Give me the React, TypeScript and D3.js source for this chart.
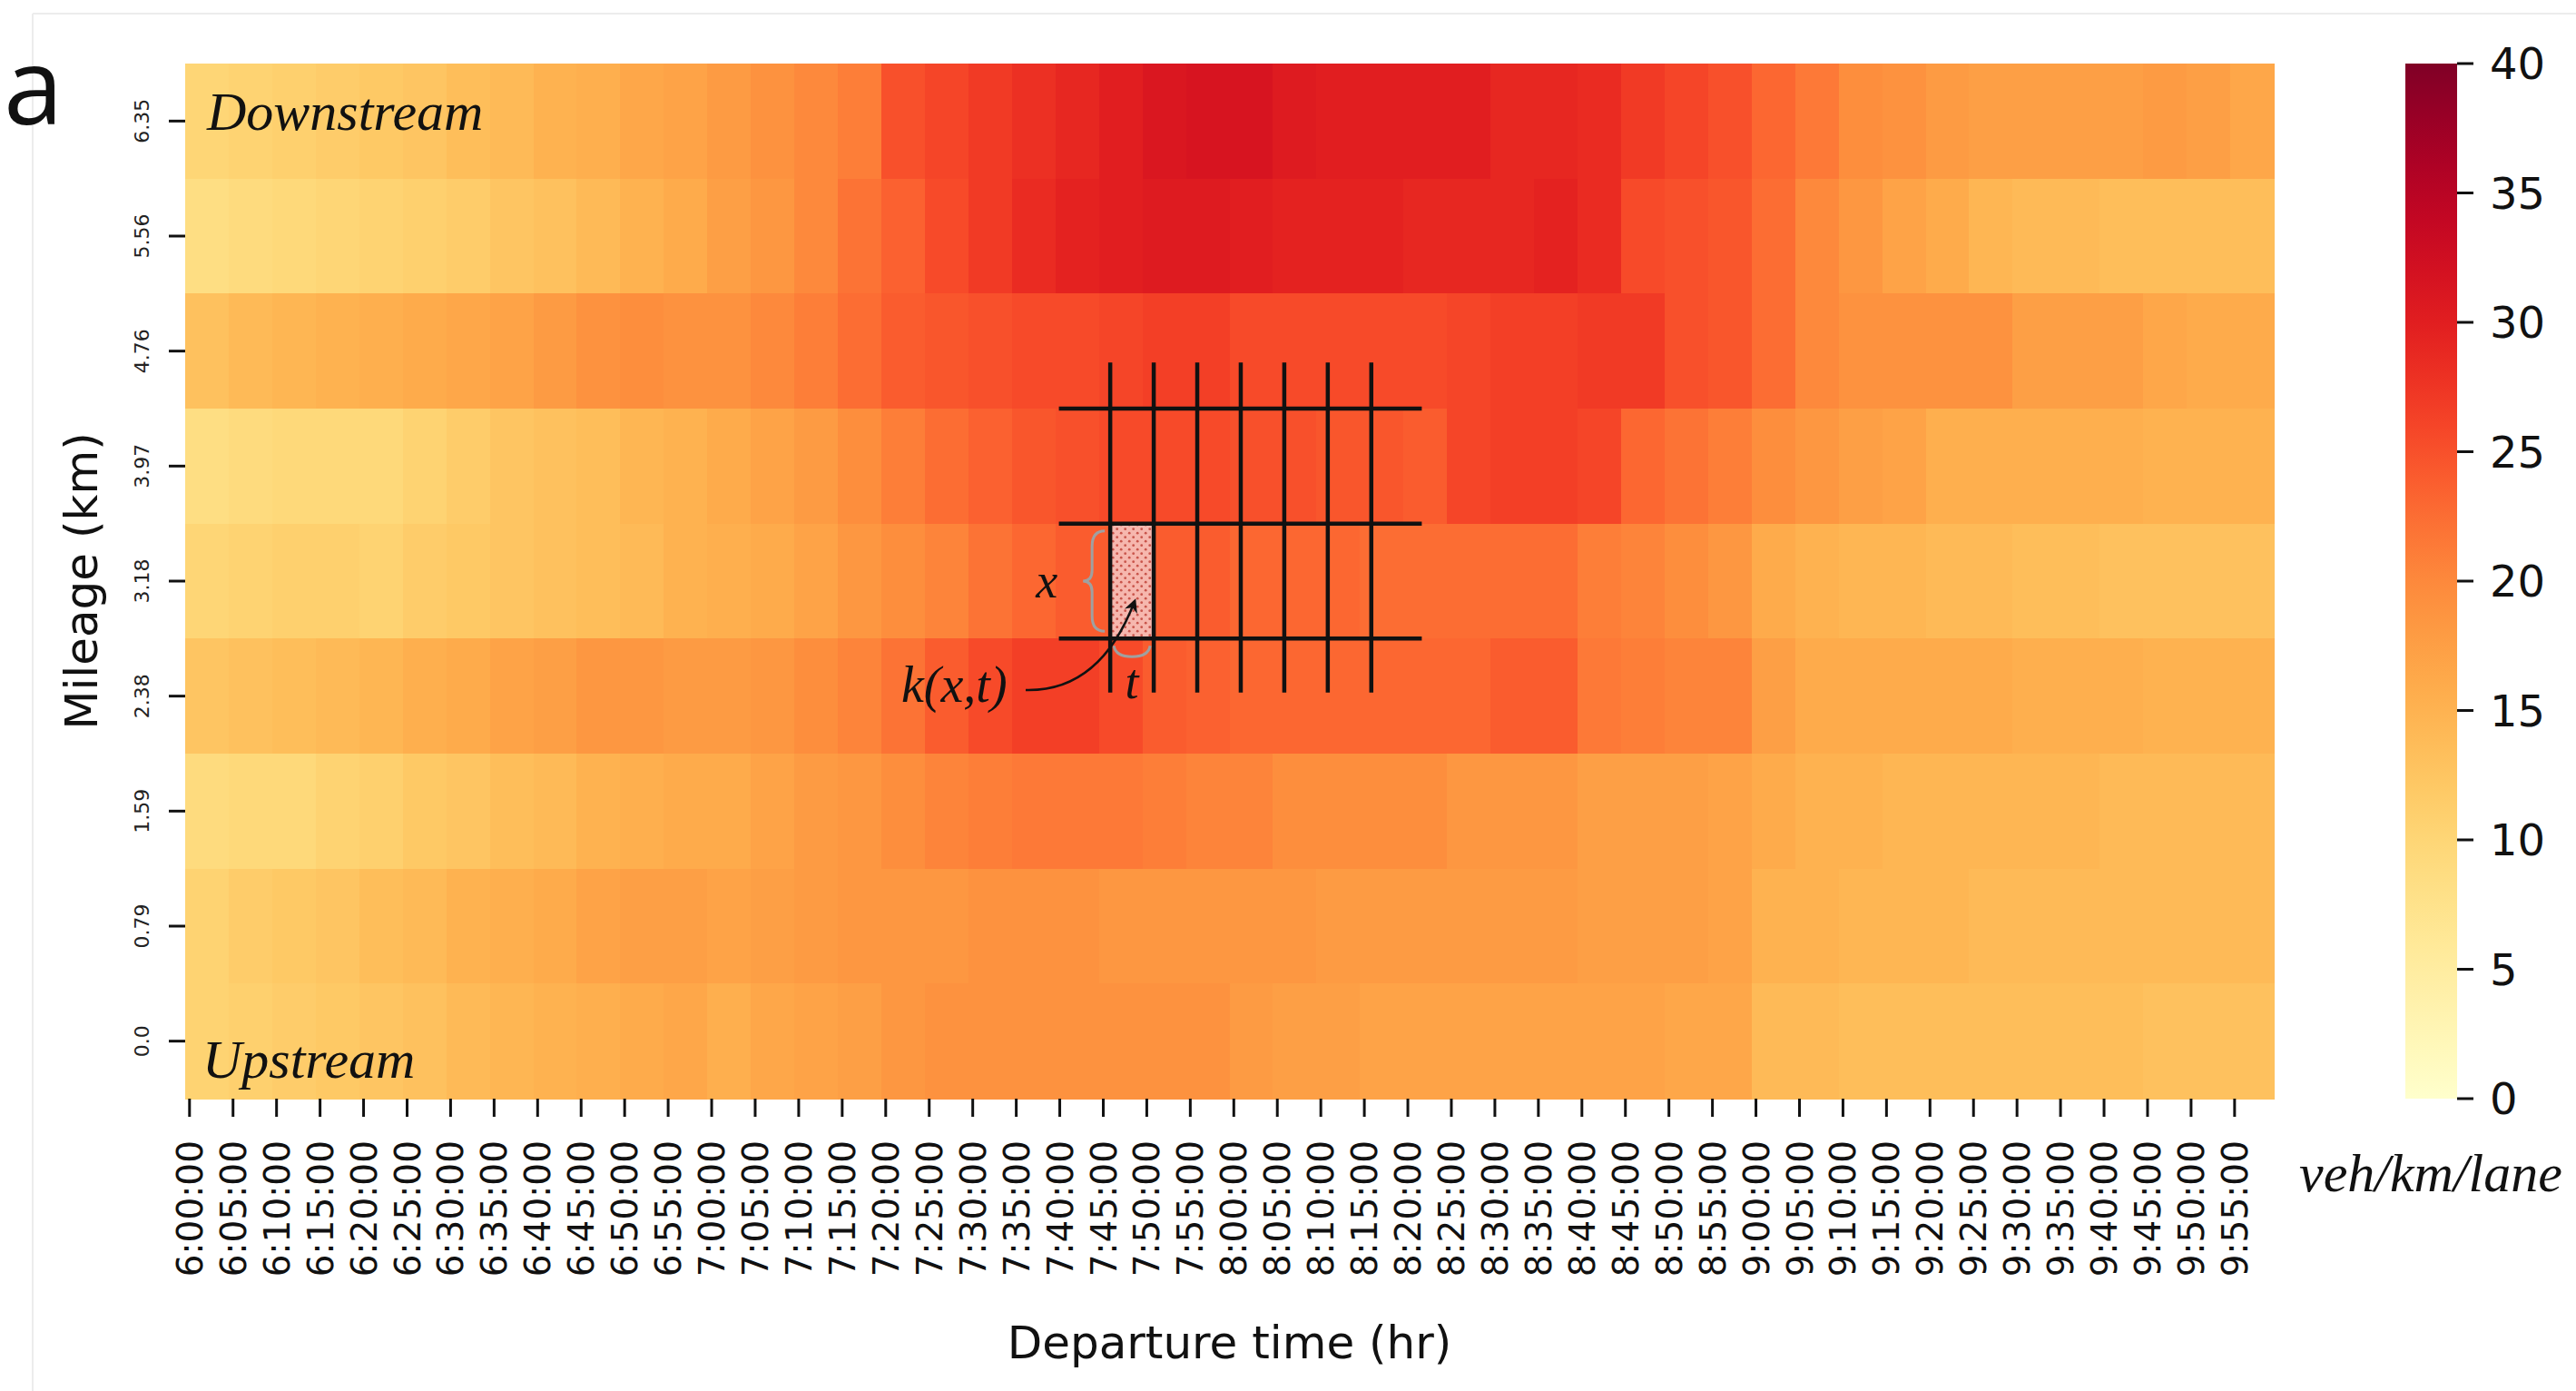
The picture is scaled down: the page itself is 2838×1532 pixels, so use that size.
import React from "react";
import * as d3 from "d3";

// ---------------- DATA ----------------
const mileageLabels = ["6.35", "5.56", "4.76", "3.97", "3.18", "2.38", "1.59", "0.79", "0.0"];

// density (veh/km/lane) per 5-minute bin, 6:00 -> 9:55, one array per mileage row
const row_6_35 = [10, 10.5, 11, 11.5, 12, 12.5, 13.5, 14, 15, 15.5, 16.5, 17, 18, 19, 20, 21, 25, 26, 27, 28, 29, 30, 31, 31.5, 31.5, 30.5, 30, 30, 30, 30, 29, 29, 28.5, 27, 26, 25, 23, 21.5, 19.5, 19, 18, 17.5, 17.5, 17.5, 17.5, 18, 17.5, 16.5];
const row_5_56 = [8.5, 9, 9.5, 10, 10.5, 11, 11.5, 12.5, 13, 14, 15, 16, 17.5, 18.5, 20, 22, 23.5, 25.5, 27, 28.5, 29.5, 30, 30.5, 30.5, 30, 29.5, 29.5, 29.5, 29, 29, 29, 29.5, 28.5, 25.5, 25, 24.5, 22.5, 20, 18.5, 17, 16, 14.5, 14, 14, 13.5, 13.5, 13.5, 13.5];
const row_4_76 = [13, 14, 14.5, 15, 15.5, 16, 16.5, 17, 18, 19, 19.5, 19, 19, 20, 21, 22.5, 24, 24.5, 25, 25.5, 25.5, 26, 26.5, 26.5, 25.5, 25.5, 25.5, 25.5, 25.5, 26, 26.5, 26.5, 27, 27, 25, 24.5, 22.5, 20, 19, 19, 19, 19, 17.5, 17.5, 17.5, 16.5, 16, 16];
const row_3_97 = [8.5, 9, 9.5, 9.5, 9.5, 10.5, 11.5, 12.5, 13, 13.5, 14.5, 15, 16, 17, 18, 19.5, 21, 22.5, 23.5, 24.5, 25, 25.5, 25.5, 25.5, 25, 25, 24.5, 24.5, 24, 26, 26.5, 26.5, 26, 23, 22, 21, 19.5, 18.5, 17.5, 17, 15.5, 15.5, 15.5, 15.5, 15.5, 15, 15, 15];
const row_3_18 = [10, 10.5, 11, 11, 10.5, 11.5, 12, 12.5, 13, 13.5, 14, 15, 15.5, 16, 17, 18.5, 19.5, 20.5, 22, 23, 24, 24, 24, 24, 23, 23, 23, 22.5, 22.5, 22.5, 22.5, 22.5, 21, 20.5, 19.5, 18.5, 16, 15, 14.5, 14.5, 14, 14, 13.5, 13.5, 13, 13, 13, 13];
const row_2_38 = [12.5, 13, 13.5, 14, 14.5, 15.5, 16, 17, 17.5, 18.5, 18.5, 18, 18, 18.5, 19.5, 20.5, 22, 24, 25.5, 26.5, 26.5, 25.5, 24, 23.5, 23, 23, 23, 23, 23, 23, 24, 24, 21.5, 21, 20.5, 20.5, 17.5, 16, 16, 16, 16, 16, 15.5, 15.5, 15.5, 15, 15, 15];
const row_1_59 = [9, 9.5, 9.5, 10.5, 11, 12, 12.5, 13.5, 14, 15, 15.5, 16, 16, 17, 18, 18.5, 19.5, 20.5, 21, 21.5, 21.5, 21.5, 21, 20.5, 20.5, 19.5, 19.5, 19.5, 19.5, 18.5, 18.5, 18.5, 17.5, 17.5, 17.5, 17, 16, 15, 15, 14.5, 14.5, 14.5, 14.5, 14.5, 14, 14, 14, 14];
const row_0_79 = [10.5, 11.5, 12, 12.5, 13.5, 14, 15, 15.5, 16, 17, 17.5, 17.5, 17, 17.5, 18, 18.5, 18.5, 18.5, 19, 19, 19, 18.5, 18.5, 18.5, 18.5, 18.5, 18, 18, 18, 18, 18, 18, 17.5, 17.5, 17.5, 17, 15, 15, 14.5, 14.5, 14.5, 14, 14, 14, 14, 14, 14, 14];
const row_0_0 = [10.5, 11, 11.5, 12, 12.5, 13, 14, 14.5, 15, 15.5, 16, 16.5, 15.5, 16.5, 17, 17.5, 18.5, 19, 19, 19, 19, 19, 19, 19, 18, 17.5, 17.5, 17, 17, 17, 17, 17, 17, 17, 16.5, 16.5, 14, 14, 13.5, 13.5, 13.5, 13.5, 13.5, 13.5, 13.5, 13, 13, 13];
const densityRows = [row_6_35, row_5_56, row_4_76, row_3_97, row_3_18, row_2_38, row_1_59, row_0_79, row_0_0];

const timeTickLabels = [
  "6:00:00", "6:05:00", "6:10:00", "6:15:00", "6:20:00", "6:25:00", "6:30:00", "6:35:00", "6:40:00", "6:45:00", "6:50:00", "6:55:00",
  "7:00:00", "7:05:00", "7:10:00", "7:15:00", "7:20:00", "7:25:00", "7:30:00", "7:35:00", "7:40:00", "7:45:00", "7:50:00", "7:55:00",
  "8:00:00", "8:05:00", "8:10:00", "8:15:00", "8:20:00", "8:25:00", "8:30:00", "8:35:00", "8:40:00", "8:45:00", "8:50:00", "8:55:00",
  "9:00:00", "9:05:00", "9:10:00", "9:15:00", "9:20:00", "9:25:00", "9:30:00", "9:35:00", "9:40:00", "9:45:00", "9:50:00", "9:55:00",
];
const minutesPerBin = 5;
const colorbarTicks = [0, 5, 10, 15, 20, 25, 30, 35, 40];

// ---------------- LAYOUT ----------------
const W = 2838;
const H = 1532;
const M = { left: 204, right: 2505, top: 70, bottom: 1210 };
const CB = { x0: 2650, x1: 2707 };
const SANS = "'DejaVu Sans', sans-serif";
const SERIF = "'Liberation Serif', 'Times New Roman', serif";

export default function App() {
  const nMin = timeTickLabels.length * minutesPerBin;
  const minuteIdx = d3.range(nMin);
  const x = d3.scaleBand<number>().domain(minuteIdx).range([M.left, M.right]).paddingInner(0).paddingOuter(0);
  const xm = d3.scaleLinear().domain([0, nMin]).range([M.left, M.right]);
  const y = d3.scaleBand<string>().domain(mileageLabels).range([M.top, M.bottom]);
  const color = d3.scaleSequential(d3.interpolateYlOrRd).domain([0, 40]);
  const cb = d3.scaleLinear().domain([0, 40]).range([M.bottom, M.top]);
  const bw = x.bandwidth();
  const rh = y.bandwidth();

  const cells: React.ReactNode[] = [];
  densityRows.forEach((row, r) => {
    row.forEach((v, b) => {
      const x0 = x(b * minutesPerBin) as number;
      cells.push(
        <rect
          key={`c${r}-${b}`}
          x={x0}
          y={y(mileageLabels[r]) as number}
          width={bw * minutesPerBin + 0.8}
          height={rh + 0.6}
          fill={color(v)}
        />
      );
    });
  });

  const gradStops = d3.range(0, 1.0001, 0.05);

  // schematic grid (annotation) in data coordinates
  const gridStartMin = 106.3;
  const gridCols = d3.range(7).map((k) => xm(gridStartMin + k * 5));
  const gridRowsY = [3, 4, 5].map((k) => M.top + k * rh);
  const gridXmin = xm(100.4);
  const gridXmax = xm(142.1);
  const gridYmin = M.top + 2.6 * rh;
  const gridYmax = M.top + 5.47 * rh;
  const cellX0 = gridCols[0];
  const cellX1 = gridCols[1];
  const cellY0 = gridRowsY[1];
  const cellY1 = gridRowsY[2];

  return (
    <svg
      width={W}
      height={H}
      viewBox={`0 0 ${W} ${H}`}
      style={{ position: "absolute", left: 0, top: 0, background: "#fff" }}
    >
      <defs>
        <linearGradient id="cbgrad" x1="0" y1="1" x2="0" y2="0">
          {gradStops.map((t) => (
            <stop key={t} offset={t} stopColor={d3.interpolateYlOrRd(t)} />
          ))}
        </linearGradient>
        <pattern id="dots" width="9" height="9" patternUnits="userSpaceOnUse">
          <rect width="9" height="9" fill="#f6b7ae" />
          <circle cx="2.2" cy="2.2" r="1.4" fill="#c9554b" />
          <circle cx="6.7" cy="6.7" r="1.4" fill="#c9554b" />
        </pattern>
        <marker id="arrow" viewBox="0 0 10 10" refX="8" refY="5" markerWidth="6" markerHeight="6" orient="auto">
          <path d="M0,0 L10,5 L0,10 L3,5 Z" fill="#111" />
        </marker>
      </defs>

      {/* faint frame */}
      <line x1={36} y1={15} x2={W} y2={15} stroke="#ececec" strokeWidth={2} />
      <line x1={36} y1={15} x2={36} y2={H} stroke="#ececec" strokeWidth={2} />

      {/* panel letter */}
      <text x={4} y={137} fontFamily="'Open Sans', sans-serif" fontSize={118} fill="#111">a</text>

      {/* heatmap */}
      <g shapeRendering="crispEdges">{cells}</g>

      {/* y ticks */}
      {mileageLabels.map((lab) => {
        const cy = (y(lab) as number) + rh / 2;
        return (
          <g key={lab}>
            <line x1={M.left - 18} x2={M.left} y1={cy} y2={cy} stroke="#111" strokeWidth={3} />
            <text
              transform={`translate(${156},${cy}) rotate(-90)`}
              textAnchor="middle"
              dy="0.36em"
              fontFamily={SANS}
              fontSize={22}
              fill="#222"
            >
              {lab}
            </text>
          </g>
        );
      })}

      {/* x ticks */}
      {timeTickLabels.map((lab, i) => {
        const tx = (x(i * minutesPerBin) as number) + bw / 2;
        return (
          <g key={lab}>
            <line x1={tx} x2={tx} y1={M.bottom} y2={M.bottom + 20} stroke="#111" strokeWidth={3} />
            <text
              transform={`translate(${tx},${1256}) rotate(-90)`}
              textAnchor="end"
              dy="0.36em"
              fontFamily={SANS}
              fontSize={39}
              fill="#111"
            >
              {lab}
            </text>
          </g>
        );
      })}

      {/* axis titles */}
      <text x={(M.left + M.right) / 2} y={1496} textAnchor="middle" fontFamily={SANS} fontSize={50} fill="#111">
        Departure time (hr)
      </text>
      <text
        transform={`translate(${89},${(M.top + M.bottom) / 2}) rotate(-90)`}
        textAnchor="middle"
        dy="0.36em"
        fontFamily={SANS}
        fontSize={50}
        fill="#111"
      >
        Mileage (km)
      </text>

      {/* stream labels */}
      <text x={228} y={143} fontFamily={SERIF} fontStyle="italic" fontSize={60} fill="#111">Downstream</text>
      <text x={223} y={1187} fontFamily={SERIF} fontStyle="italic" fontSize={60} fill="#111">Upstream</text>

      {/* schematic grid */}
      <rect x={cellX0} y={cellY0} width={cellX1 - cellX0} height={cellY1 - cellY0} fill="url(#dots)" />
      {gridRowsY.map((gy, i) => (
        <line key={`gh${i}`} x1={gridXmin} x2={gridXmax} y1={gy} y2={gy} stroke="#111" strokeWidth={4.5} />
      ))}
      {gridCols.map((gx, i) => (
        <line key={`gv${i}`} x1={gx} x2={gx} y1={gridYmin} y2={gridYmax} stroke="#111" strokeWidth={4.5} />
      ))}
      {/* brace for x */}
      <path
        d={`M ${cellX0 - 6} ${cellY0 + 8} Q ${cellX0 - 20} ${cellY0 + 8} ${cellX0 - 20} ${cellY0 + 25} L ${cellX0 - 20} ${(cellY0 + cellY1) / 2 - 12} Q ${cellX0 - 20} ${(cellY0 + cellY1) / 2} ${cellX0 - 30} ${(cellY0 + cellY1) / 2} Q ${cellX0 - 20} ${(cellY0 + cellY1) / 2} ${cellX0 - 20} ${(cellY0 + cellY1) / 2 + 12} L ${cellX0 - 20} ${cellY1 - 25} Q ${cellX0 - 20} ${cellY1 - 8} ${cellX0 - 6} ${cellY1 - 8}`}
        fill="none"
        stroke="#a0a0a0"
        strokeWidth={3}
      />
      <text x={cellX0 - 82} y={(cellY0 + cellY1) / 2 + 18} fontFamily={SERIF} fontStyle="italic" fontSize={54} fill="#111">x</text>
      {/* brace for t */}
      <path
        d={`M ${cellX0 + 4} ${cellY1 + 8} Q ${cellX0 + 6} ${cellY1 + 20} ${(cellX0 + cellX1) / 2} ${cellY1 + 20} Q ${cellX1 - 6} ${cellY1 + 20} ${cellX1 - 4} ${cellY1 + 8}`}
        fill="none"
        stroke="#a0a0a0"
        strokeWidth={3}
      />
      <text x={(cellX0 + cellX1) / 2} y={cellY1 + 66} textAnchor="middle" fontFamily={SERIF} fontStyle="italic" fontSize={54} fill="#111">t</text>
      <text x={993} y={773} fontFamily={SERIF} fontStyle="italic" fontSize={56} fill="#111">k(x,t)</text>
      <path
        d={`M 1130 760 Q 1212 762 ${(cellX0 + cellX1) / 2 + 3} ${(cellY0 + cellY1) / 2 + 22}`}
        fill="none"
        stroke="#111"
        strokeWidth={2.5}
        markerEnd="url(#arrow)"
      />

      {/* colorbar */}
      <rect x={CB.x0} y={M.top} width={CB.x1 - CB.x0} height={M.bottom - M.top} fill="url(#cbgrad)" />
      {colorbarTicks.map((v) => (
        <g key={`cb${v}`}>
          <line x1={CB.x1} x2={CB.x1 + 18} y1={cb(v)} y2={cb(v)} stroke="#111" strokeWidth={3} />
          <text x={CB.x1 + 36} y={cb(v)} dy="0.36em" fontFamily={SANS} fontSize={48} fill="#111">
            {v}
          </text>
        </g>
      ))}
      <text x={2533} y={1312} fontFamily={SERIF} fontStyle="italic" fontSize={60} fill="#111">veh/km/lane</text>
    </svg>
  );
}
